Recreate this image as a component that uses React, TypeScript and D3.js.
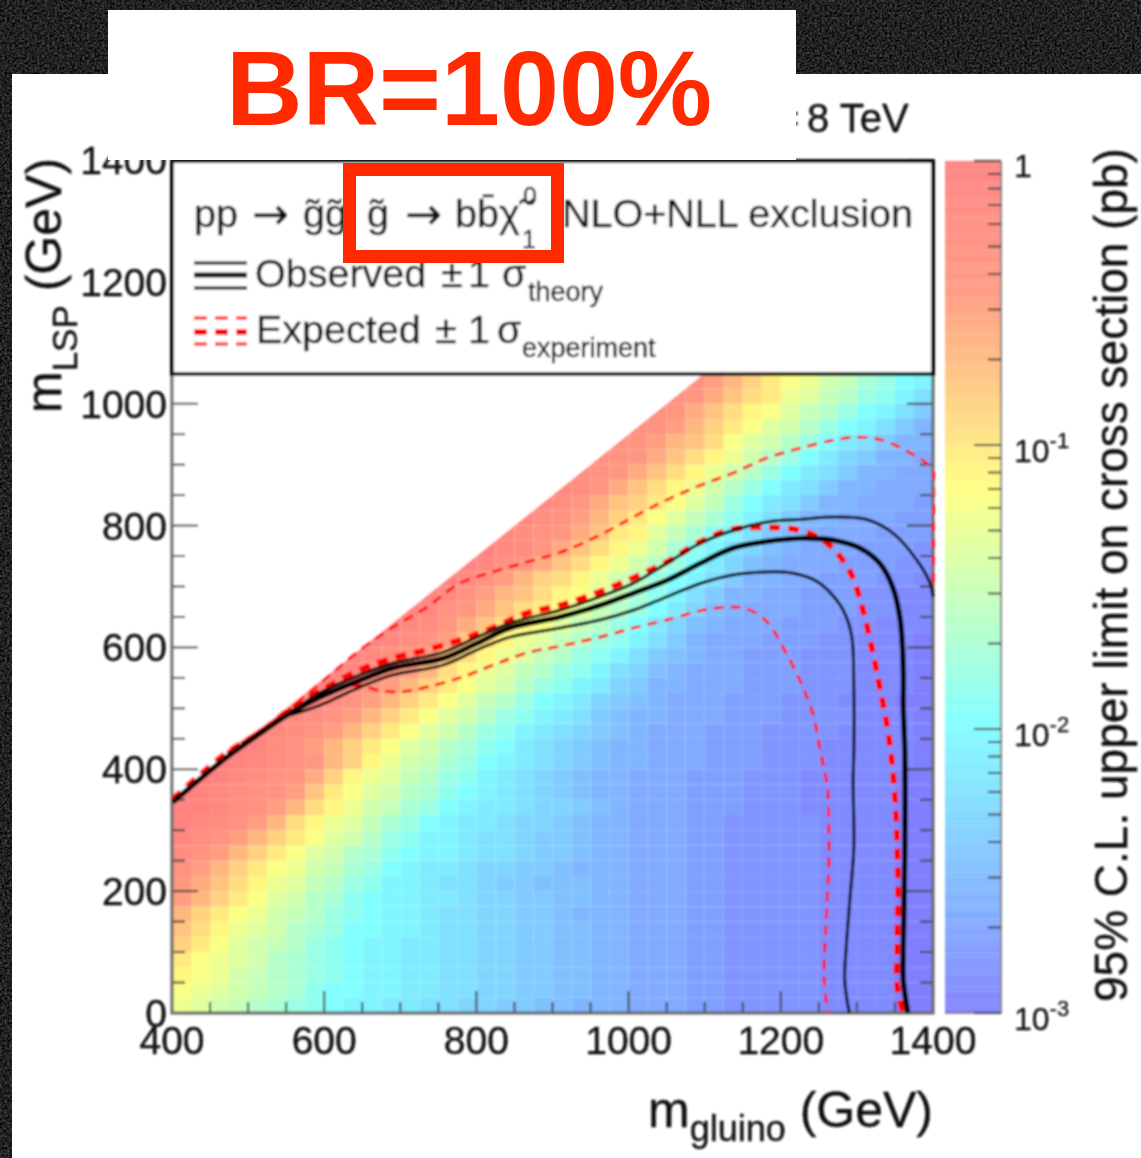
import React from "react";
import * as d3 from "d3";

// heat map cells: one string per mLSP row (25 GeV each), one char per gluino column (25 GeV each)
// char is a base 36 level: 0 = 1 pb, z = 10^-3 pb, "." = no cell
const cellRows = [
  "fghijklmnoopp" + "qqrrssttu" + "uuvvvwwxxxxxyyyyzz",
  "efghijkmnn" + "ooppqqrrsstt" + "uuvvvwwxxxxxyyyyzz",
  "defhijklmn" + "ooppqqrrsstt" + "uuvvvwwxxxxxyyyyzz",
  "cefghjklmn" + "ooppqqrrsstt" + "uuvvvwwxxxxxyyyyzz",
  "aceghijlmn" + "ooppqqrrsstt" + "uuvvvwwxxxxxyyyyzz",
  "9bdfghjkln" + "noopqqrrsstt" + "uuvvvwwxxxxxyyyyzz",
  "8acefhijlm" + "noopqqrrsstu" + "uuvvvwwxxxxxyyyyzz",
  "68aceghjkm" + "nooppqrrsstt" + "uuvvvwwxxxxxyyyyzz",
  "579bdfgijl" + "moopqqrsstt".padEnd(12, "t") + "uuvvvwwxxxxxyyyyzz",
  "468acefhik" + "lnoppqrrsstu" + "uuvvvwwxxxxxyyyyzz",
  "3468aceghj" + "kmnoopqqrsst" + "uuvvvwwxxxxxyyyyzz",
  "23468acegh" + "jlmoopqqrsst" + "uuvvvwwxxxxxyyyyzz",
  "123468bdfg" + "iklnoppqrrst" + "uuvvvwwxxxxxyyyyzz",
  "1123468bdf" + "hiklnoppqrrs" + "tuvvvwwwxxxyyyyyzz",
  "01234469ce" + "ghjkmnopqrst" + "uuvvvwwwxxxyyyyyzz",
  "00123457ad" + "fgijlmopqrst" + "uuvvvwwwxxxyyyyyzz",
  ".0012345" + "8a" + "dfhiklnopqrs" + "tuuvvvwwwxxxyyyyyz",
  "..0013468a" + "ceghjkmnpqrs" + "tuuvvvwwwxxxyyyyyz",
  "...0123468" + "aceghjlmopqr" + "stuvvvwwwxxxxyyyyz",
  "....012346" + "8aceghjlmopq" + "stuuvvvwwwxxxxyyyz",
  ".....01234" + "68acegijlnop" + "rstuvvvwwwxxxyyyzz",
  "......0123" + "568aceghjlmo" + "prsuuvvvwwwxxxyyyz",
  ".......012" + "3468bdfgijlm" + "oqrtuvvvwwwxxxyyyz",
  "........01" + "23469bdfgijl" + "moqstuvvwwwxxxyyyz",
  ".........0" + "12346" + "9bdfgij" + "lmoqsuvvvwwwxxyyyz",
  ".........." + "0123579bdegi" + "jlnprtuvvvwwwxxyyy",
  ".........." + ".01245" + "79bceg" + "ijlnprtuvvvwwwxxyy",
  ".........." + "..01246" + "89bde" + "gikmoqsuuvvwwwxxyy",
  ".........." + "...012468abd" + "fhjlnoqsuuvvwwwxxy",
  ".........." + "....0124579b" + "dfhjlnprtuvvvwwwxx",
  ".........." + ".....0123579" + "bdfhkmoqrtuvvvwwwx",
  ".........." + "......123457" + "9cdgikmoqstuvvvwww",
  ".........." + ".......12346" + "8acegikmoqsuuvvvww",
  ".........." + "........1235" + "79acegilnpqsuuvvvw",
  ".........." + ".........123" + "579bdfhjlnpqsuuvvv",
  ".........." + "..........23" + "4579bdfhjlnpqsuuvv",
  ".........." + "...........3" + "44579bdfhjlnprsuuv",
  ".........." + "............" + "344689beghjlnpqsuu",
  ".........." + "............" + ".3446" + "8acegh" + "jlnoqsu",
  ".........." + "............" + "..34579bdegijlnoqs",
  ".........." + "............" + "...34579bcfgijlmoq",
  ".........." + "............" + "....3468acefhikl" + "no",
];

// contours as [mGluino, mLSP]
const observed = [[401,346],[472,420],[516,459],[555,492],[594,518],[647,546],[690,566],[756,582],[801,607],[844,632],[910,650],[962,669],[1006,689],[1050,710],[1094,738],[1137,763],[1182,774],[1225,779],[1269,776],[1304,763],[1330,738],[1347,699],[1357,645],[1361,563],[1361,502],[1363,427],[1363,272],[1361,108],[1361,54],[1367,0]];
const observedUp = [[555,492],[594,525],[647,555],[690,574],[756,592],[801,617],[844,640],[910,661],[962,683],[1006,705],[1050,738],[1094,771],[1137,792],[1182,806],[1225,810],[1269,814],[1313,810],[1347,788],[1379,743],[1396,706],[1400,683]];
const observedDown = [[555,489],[594,505],[647,535],[690,555],[756,571],[801,596],[844,617],[910,632],[962,645],[1006,661],[1050,683],[1094,705],[1137,719],[1182,724],[1215,722],[1245,710],[1265,690],[1282,661],[1293,620],[1296,535],[1296,427],[1295,382],[1296,272],[1291,190],[1286,108],[1284,54],[1290,0]];
const expected = [[401,351],[472,427],[516,461],[559,502],[604,535],[647,563],[690,582],[735,596],[778,612],[822,632],[866,656],[910,669],[962,691],[1006,714],[1050,740],[1094,773],[1137,794],[1182,797],[1225,792],[1261,771],[1291,724],[1308,661],[1321,591],[1330,535],[1340,469],[1347,399],[1351,333],[1353,272],[1354,207],[1353,108],[1353,43],[1361,0]];
const expectedUp = [[472,428],[538,484],[594,541],[647,596],[690,633],[735,666],[778,705],[822,724],[866,740],[910,756],[962,784],[1006,814],[1050,842],[1094,866],[1137,886],[1182,911],[1225,927],[1269,940],[1300,945],[1334,940],[1370,919],[1399,891],[1400,800],[1400,694]];
const expectedDown = [[555,494],[604,527],[647,538],[669,530],[700,527],[735,535],[778,550],[822,571],[866,591],[910,602],[972,620],[1006,632],[1050,645],[1094,660],[1129,666],[1156,663],[1182,642],[1203,600],[1225,546],[1242,492],[1251,436],[1261,371],[1263,300],[1263,240],[1259,136],[1257,54],[1262,0]];

const xMajor = [400, 600, 800, 1000, 1200, 1400];
const yMajor = [0, 200, 400, 600, 800, 1000, 1200, 1400];
const zDecades = [1, 0.1, 0.01, 0.001];
const zExponents = ["", "-1", "-2", "-3"];
const paletteStops = [0, 0.34, 0.61, 0.84, 1];
const paletteColors = ["#8080ff", "#80ffff", "#ffff80", "#ff9980", "#ff8080"];
const diagonal = [[400, 350], [1100, 1050], [400, 1050]];

const FONT = "'Liberation Sans', Arial, sans-serif";
const INK = "#0c0c0c";
const CELL = 25;

const x = d3.scaleLinear().domain([400, 1400]).range([172, 933]);
const y = d3.scaleLinear().domain([0, 1400]).range([1013, 160]);
const z = d3.scaleLog().domain([0.001, 1]).range([1013, 161]);
const zUnit = d3.scaleLog().domain([0.001, 1]).range([0, 1]);
const palette = d3.scaleLinear<string>().domain(paletteStops).range(paletteColors);

const curve = d3
  .line<number[]>()
  .x((d) => x(d[0]))
  .y((d) => y(d[1]))
  .curve(d3.curveCatmullRom.alpha(0.5));

const cells = cellRows.flatMap((row, r) =>
  row.split("").flatMap((ch, c) => {
    if (ch === ".") return [];
    const sigma = Math.pow(10, (-3 * parseInt(ch, 36)) / 35);
    return [{ mg: 400 + c * CELL, ml: r * CELL, sigma }];
  })
);

const barBands = d3.range(0, 200).map((i) => Math.pow(10, -3 + (3 * i) / 200));
const zMinor = zDecades.slice(1).flatMap((d) => d3.range(2, 10).map((k) => k * d));

function Arrow({ px, py }: { px: number; py: number }) {
  return (
    <text x={px} y={py} fontFamily="'DejaVu Sans'" fontSize={44}>→</text>
  );
}

export default function App() {
  const minor = d3.range(0, 1401, 50);
  return (
    <svg width={1141} height={1158} style={{ position: "absolute", left: 0, top: 0 }} fontFamily={FONT}>
      <defs>
        <filter id="grain" x="0" y="0" width="100%" height="100%" colorInterpolationFilters="sRGB">
          <feTurbulence type="fractalNoise" baseFrequency="0.4" numOctaves="3" seed="4" />
          <feColorMatrix values="0.42 0 0 0 -0.08  0.42 0 0 0 -0.08  0.42 0 0 0 -0.08  0 0 0 0 1" />
          <feGaussianBlur stdDeviation="0.6" />
        </filter>
        <filter id="soft" filterUnits="userSpaceOnUse" x="0" y="0" width="1141" height="1158">
          <feGaussianBlur stdDeviation="1.15" />
        </filter>
        <clipPath id="plotArea">
          <rect x={172} y={160} width={763} height={853} />
        </clipPath>
      </defs>

      <rect width={1141} height={1158} fill="#1f1f21" />
      <rect width={1141} height={1158} filter="url(#grain)" />
      <rect x={12} y={74} width={1129} height={1084} fill="#fff" />

      <g filter="url(#soft)">
        {cells.map((d, i) => (
          <rect
            key={i}
            x={x(d.mg)}
            y={y(d.ml + CELL)}
            width={x(d.mg + CELL) - x(d.mg)}
            height={y(d.ml) - y(d.ml + CELL)}
            fill={palette(zUnit(d.sigma))}
          />
        ))}
        <polygon points={diagonal.map((d) => `${x(d[0])},${y(d[1])}`).join(" ")} fill="#fff" />

        {/* ticks on the frame */}
        <g stroke="#444" strokeWidth={2}>
          {minor.map((v) => {
            const len = v % 200 === 0 ? 26 : 13;
            return (
              <g key={v}>
                <line x1={172} x2={172 + len} y1={y(v)} y2={y(v)} />
                <line x1={933} x2={933 - len} y1={y(v)} y2={y(v)} />
              </g>
            );
          })}
          {d3.range(400, 1401, 50).map((v) => {
            const len = v % 200 === 0 ? 22 : 11;
            return <line key={v} x1={x(v)} x2={x(v)} y1={1013} y2={1013 - len} />;
          })}
        </g>
        <path d="M172,160V1013H933V160" fill="none" stroke="#666" strokeWidth={3} />

        <g clipPath="url(#plotArea)" fill="none">
          <path d={curve(expectedUp) ?? ""} stroke="#ff0000" strokeWidth={3} strokeDasharray="10 7" />
          <path d={curve(expectedDown) ?? ""} stroke="#ff0000" strokeWidth={3} strokeDasharray="10 7" />
          <path d={curve(expected) ?? ""} stroke="#ff0000" strokeWidth={6.2} strokeDasharray="11 8" />
          <path d={curve(observedUp) ?? ""} stroke="#000" strokeWidth={3} />
          <path d={curve(observedDown) ?? ""} stroke="#000" strokeWidth={3} />
          <path d={curve(observed) ?? ""} stroke="#000" strokeWidth={5.4} />
        </g>

        {/* legend */}
        <rect x={172} y={161} width={761} height={213} fill="#fff" stroke="#000" strokeWidth={3.8} />
        <g fill={INK} fontSize={39.5} stroke={INK} strokeWidth={0.35}>
          <text x={194} y={227}>pp</text>
          <Arrow px={252} py={229} />
          <text x={303} y={227}>{"g\u0303g\u0303,"}</text>
          <text x={367} y={227}>{"g\u0303"}</text>
          <Arrow px={405} py={229} />
          <text x={455} y={227}>{"bb\u0304"}</text>
          <text x={499} y={227}>{"\u03c7\u0303"}</text>
          <text x={523} y={205} fontSize={25}>0</text>
          <text x={522} y={248} fontSize={25}>1</text>
          <text x={562} y={227}>NLO+NLL exclusion</text>
          <text x={255} y={287}>Observed</text>
          <text x={441} y={287}>±</text>
          <text x={468} y={287}>1</text>
          <text x={502} y={287}>σ</text>
          <text x={528} y={301} fontSize={27}>theory</text>
          <text x={256} y={343}>Expected</text>
          <text x={435} y={343}>±</text>
          <text x={468} y={343}>1</text>
          <text x={497} y={343}>σ</text>
          <text x={522} y={357} fontSize={27}>experiment</text>
        </g>
        <g stroke="#111">
          <line x1={194} x2={247} y1={263} y2={263} strokeWidth={3} />
          <line x1={194} x2={247} y1={275} y2={275} strokeWidth={5} />
          <line x1={194} x2={247} y1={288} y2={288} strokeWidth={3} />
        </g>
        <g stroke="#ff0000" strokeDasharray="13 8">
          <line x1={194} x2={247} y1={318} y2={318} strokeWidth={3} />
          <line x1={194} x2={247} y1={332} y2={332} strokeWidth={6} />
          <line x1={194} x2={247} y1={344} y2={344} strokeWidth={3} />
        </g>

        {/* axis labels */}
        <g fill={INK} fontSize={39} stroke={INK} strokeWidth={0.3}>
          {xMajor.map((v) => (
            <text key={v} x={x(v)} y={1054} textAnchor="middle">{v}</text>
          ))}
          {yMajor.map((v) => (
            <text key={v} x={167} y={y(v) + 14} textAnchor="end">{v}</text>
          ))}
        </g>
        <text transform="translate(61,413) rotate(-90)" fill={INK} fontSize={50} stroke={INK} strokeWidth={0.3}>
          m<tspan fontSize={35} dy={16}>LSP</tspan>
          <tspan dy={-16}> (GeV)</tspan>
        </text>
        <text x={933} y={1127} textAnchor="end" fill={INK} fontSize={50} stroke={INK} strokeWidth={0.3}>
          m<tspan fontSize={36} dy={14}>gluino</tspan>
          <tspan dy={-14}> (GeV)</tspan>
        </text>
        <text x={807} y={132} fill={INK} fontSize={40} stroke={INK} strokeWidth={0.3}>8 TeV</text>
        <text x={776} y={132} fill={INK} fontSize={40}>=</text>

        {/* colour bar */}
        {barBands.map((v, i) => {
          const top = i + 1 < barBands.length ? z(barBands[i + 1]) : z(1);
          return <rect key={i} x={945} y={top} width={56} height={z(v) - top} fill={palette(zUnit(v))} fillOpacity={0.97} />;
        })}
        <path d="M945,1013H1001V161" fill="none" stroke="#888" strokeWidth={2} />
        <g stroke="#444" strokeWidth={2}>
          {zDecades.map((v) => (
            <line key={v} x1={1001} x2={974} y1={z(v)} y2={z(v)} />
          ))}
          {zMinor.map((v) => (
            <line key={v} x1={1001} x2={988} y1={z(v)} y2={z(v)} />
          ))}
        </g>
        <g fill={INK} fontSize={32} stroke={INK} strokeWidth={0.25}>
          {zDecades.map((v, i) =>
            i === 0 ? (
              <text key={v} x={1014} y={z(v) + 16}>1</text>
            ) : (
              <text key={v} x={1014} y={z(v) + 17}>
                10<tspan fontSize={22} dy={-14}>{zExponents[i]}</tspan>
              </text>
            )
          )}
        </g>
        <text transform="translate(1127,1002) rotate(-90)" fill={INK} fontSize={46} stroke={INK} strokeWidth={0.3}>
          95% C.L. upper limit on cross section (pb)
        </text>
      </g>

      {/* overlays pasted on the slide */}
      <rect x={108} y={10} width={688} height={150} fill="#fff" />
      <text x={226} y={125} fill="#ff2a00" fontSize={106} fontWeight="bold">BR=100%</text>
      <rect x={349.5} y={169.5} width={208} height={87} fill="none" stroke="#ff2a00" strokeWidth={13} />
    </svg>
  );
}
